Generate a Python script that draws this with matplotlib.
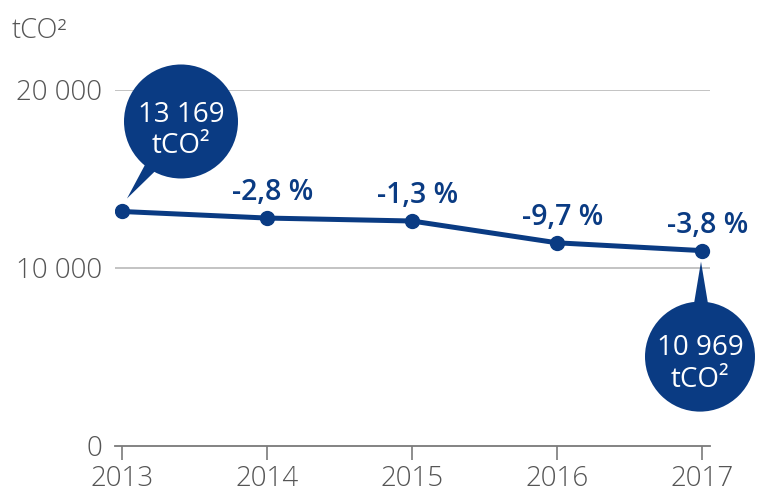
import matplotlib
matplotlib.use("Agg")
import matplotlib.pyplot as plt
from matplotlib.patches import Circle, Polygon
from matplotlib.transforms import ScaledTranslation

years = [2013, 2014, 2015, 2016, 2017]
values = [13169, 12800, 12634, 11408, 10969]
changes = ["", "-2,8 %", "-1,3 %", "-9,7 %", "-3,8 %"]
bubble_lines = {2013: ["13 169", "tCO²"], 2017: ["10 969", "tCO²"]}
yticks = [0, 10000, 20000]
ytick_labels = ["0", "10 000", "20 000"]
unit_label = "tCO²"

BLUE = "#0a3b83"
GREY_TXT = "#555555"
GRID = "#b3b3b3"

plt.rcParams['font.family'] = ['Open Sans', 'DejaVu Sans']

fig = plt.figure(figsize=(7.6, 4.92), dpi=100)
ax = fig.add_axes([115/760, 1-445.7/492, (710-115)/760, (445.7-90)/492])
ax.set_xlim(2013 - 7/145, 2017 + 8/145)
ax.set_ylim(0, 20000)

for s in ['top', 'right', 'left']:
    ax.spines[s].set_visible(False)
ax.spines['bottom'].set_color("#7a7a7a")
ax.spines['bottom'].set_linewidth(1.3)

ax.set_yticks(yticks)
ax.set_yticklabels(ytick_labels)
ax.set_xticks(years)
ax.set_xticklabels([str(y) for y in years])
ax.tick_params(axis='y', length=0, pad=9, labelsize=20, labelcolor=GREY_TXT)
ax.tick_params(axis='x', length=10, width=1.2, color="#7a7a7a", pad=4,
               labelsize=20, labelcolor=GREY_TXT)
for lab in ax.get_xticklabels() + ax.get_yticklabels():
    lab.set_fontweight('light')

for yv in yticks[1:]:
    ax.axhline(yv, color=GRID, lw=1.1, zorder=1)

ax.plot(years, values, color=BLUE, lw=3.6, marker='o', markersize=10,
        zorder=3, solid_capstyle='round')

for x, v, c in zip(years, values, changes):
    if c:
        ax.annotate(c, (x, v), xytext=(4, 13), textcoords='offset points',
                    ha='center', va='baseline', fontsize=20.5, fontweight='semibold',
                    color=BLUE, annotation_clip=False)

# bubbles (offsets in pixels at 100 dpi -> inches)
bubble_specs = {
    2013: dict(center=(59, 90), r=57, tail=[(5, 13), (28, 56), (43, 50)],
               base1=-1, base2=-32),
    2017: dict(center=(-2, -106), r=55, tail=[(-1, -11), (-9, -59), (7, -59)],
               base1=2, base2=-30),
}
for x, v in zip(years, values):
    if x not in bubble_specs:
        continue
    spec = bubble_specs[x]
    tr = fig.dpi_scale_trans + ScaledTranslation(x, v, ax.transData)
    cx, cy = spec['center']
    circ = Circle((cx/100, cy/100), spec['r']/100, transform=tr,
                  facecolor=BLUE, edgecolor='none', zorder=5, clip_on=False)
    fig.add_artist(circ)
    poly = Polygon([(px/100, py/100) for px, py in spec['tail']], closed=True,
                   transform=tr, facecolor=BLUE, edgecolor='none', zorder=5,
                   clip_on=False)
    fig.add_artist(poly)
    l1, l2 = bubble_lines[x]
    fig.text(cx/100, (cy + spec['base1'])/100, l1, transform=tr, ha='center',
             va='baseline', fontsize=20, color='white', zorder=6,
             fontweight='medium')
    fig.text(cx/100, (cy + spec['base2'])/100, l2, transform=tr, ha='center',
             va='baseline', fontsize=20, color='white', zorder=6,
             fontweight='medium')

fig.text(12/760, 1-38/492, unit_label, ha='left', va='baseline', fontsize=19.5,
         color=GREY_TXT, fontweight='light')

fig.savefig("out.png", dpi=100)
